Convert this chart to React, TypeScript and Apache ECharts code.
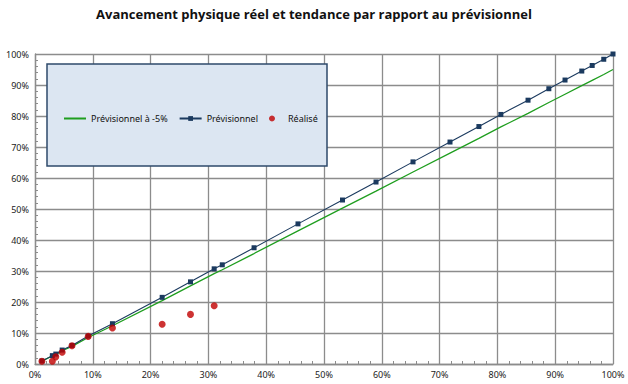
import React, { useEffect, useRef } from "react";
import * as echarts from "echarts";

const titleText = "Avancement physique réel et tendance par rapport au prévisionnel";
const seriesNames = ["Prévisionnel à -5%", "Prévisionnel", "Réalisé"];

// x (avancement temporel, %) shared by the series
const prevX = [1.2, 3.0, 3.6, 4.7, 6.4, 9.2, 13.4, 22.0, 26.9, 31.0, 32.4, 37.9, 45.5, 53.2, 59.0, 65.4, 71.8, 76.8, 80.6, 85.3, 88.9, 91.7, 94.6, 96.4, 98.4, 100];
const prevY = [1.0, 2.7, 3.2, 4.5, 6.0, 9.0, 13.0, 21.5, 26.5, 30.7, 32.0, 37.5, 45.2, 52.9, 58.7, 65.2, 71.6, 76.6, 80.5, 85.1, 88.8, 91.6, 94.5, 96.3, 98.3, 100];
const prev5Y = [0.95, 2.57, 3.04, 4.28, 5.7, 8.55, 12.35, 20.43, 25.18, 29.17, 30.4, 35.63, 42.94, 50.26, 55.77, 61.94, 68.02, 72.77, 76.48, 80.85, 84.36, 87.02, 89.78, 91.49, 93.39, 95];
const realX = [1.2, 3.0, 3.6, 4.7, 6.4, 9.2, 13.4, 22.0, 26.9, 31.0];
const realY = [0.9, 0.9, 2.3, 3.8, 5.9, 8.9, 11.6, 12.8, 16.0, 18.8];

const pct = (v: number) => v / 100;

export default function App() {
  const ref = useRef<HTMLDivElement>(null);
  useEffect(() => {
    if (!ref.current) return;
    const chart = echarts.init(ref.current, null, { renderer: "svg" });
    const gridColor = "#8c8c8c";
    const labelStyle = { color: "#222", fontSize: 9, fontFamily: "Noto Sans" };
    chart.setOption({
      animation: false,
      backgroundColor: "#ffffff",
      title: {
        text: titleText,
        left: "center",
        top: 2,
        textStyle: { fontFamily: "Open Sans", fontWeight: "bold", fontSize: 13, color: "#111" },
      },
      grid: { left: 35, right: 15, top: 54, bottom: 20, containLabel: false },
      xAxis: {
        type: "value",
        min: 0,
        max: 1,
        interval: 0.1,
        axisLine: { show: true, lineStyle: { color: gridColor, width: 1.3 } },
        axisTick: { show: true, inside: true, length: 3, lineStyle: { color: gridColor } },
        minorTick: { show: true, splitNumber: 5, length: 3, lineStyle: { color: gridColor } },
        splitLine: { show: true, lineStyle: { color: gridColor, width: 1.3 } },
        axisLabel: { ...labelStyle, margin: 6, formatter: (v: number) => Math.round(v * 100) + "%" },
      },
      yAxis: {
        type: "value",
        min: 0,
        max: 1,
        interval: 0.1,
        axisLine: { show: true, lineStyle: { color: gridColor, width: 1.3 } },
        axisTick: { show: true, inside: true, length: 3, lineStyle: { color: gridColor } },
        minorTick: { show: true, splitNumber: 5, length: 3, lineStyle: { color: gridColor } },
        splitLine: { show: true, lineStyle: { color: gridColor, width: 1.3 } },
        axisLabel: { ...labelStyle, margin: 6, formatter: (v: number) => Math.round(v * 100) + "%" },
      },
      graphic: [
        {
          type: "rect",
          z: 5,
          shape: { x: 47, y: 64, width: 280, height: 102 },
          style: { fill: "#dce6f2", stroke: "#2e4a6b", lineWidth: 1.5 },
        },
      ],
      legend: {
        z: 10,
        left: 58,
        top: 109,
        itemWidth: 22,
        itemHeight: 6,
        itemGap: 11,
        textStyle: { fontFamily: "Noto Sans", fontSize: 9, color: "#111" },
        data: [
          { name: seriesNames[0], itemStyle: { opacity: 0 } },
          { name: seriesNames[1] },
          { name: seriesNames[2], icon: "circle" },
        ],
      },
      series: [
        {
          name: seriesNames[0],
          type: "line",
          showSymbol: false,
          symbol: "none",
          lineStyle: { color: "#1f9e1f", width: 1.3 },
          itemStyle: { color: "#1f9e1f" },
          data: prevX.map((x, i) => [pct(x), pct(prev5Y[i])]),
          z: 2,
        },
        {
          name: seriesNames[1],
          type: "line",
          symbol: "rect",
          symbolSize: 5,
          lineStyle: { color: "#1b3a5f", width: 1.1 },
          itemStyle: { color: "#1b3a5f" },
          data: prevX.map((x, i) => [pct(x), pct(prevY[i])]),
          z: 3,
        },
        {
          name: seriesNames[2],
          type: "scatter",
          symbol: "circle",
          symbolSize: 7,
          itemStyle: { color: "#c00000" },
          data: realX.map((x, i) => [pct(x), pct(realY[i])]),
          z: 4,
        },
      ],
    });
    return () => chart.dispose();
  }, []);
  return <div ref={ref} style={{ width: 628, height: 384, position: "absolute", left: 0, top: 0 }} />;
}
